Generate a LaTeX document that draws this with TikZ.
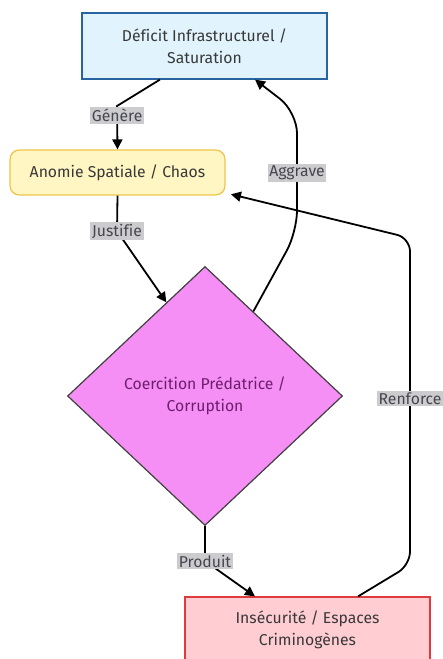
\documentclass[tikz,border=0pt]{standalone}
\usepackage{fontspec}
\setmainfont[Ligatures=NoCommon]{Fira Sans}
\usepackage{tikz}
\usetikzlibrary{positioning, arrows.meta, shapes.geometric, calc}
\usepackage{xcolor}
\definecolor{defblue}{RGB}{225, 244, 253}
\definecolor{defline}{RGB}{40, 100, 160}
\definecolor{anomfill}{RGB}{255, 246, 196}
\definecolor{anomline}{RGB}{238, 196, 70}
\definecolor{coerfill}{RGB}{245, 143, 245}
\definecolor{coertext}{RGB}{110, 30, 110}
\definecolor{insfill}{RGB}{255, 205, 210}
\definecolor{insline}{RGB}{222, 60, 60}
\definecolor{lblgray}{RGB}{204, 204, 206}
\definecolor{lbltext}{RGB}{70, 70, 80}

\begin{document}
\begin{tikzpicture}[
        x=0.75pt, y=-0.75pt,
        box/.style = {draw, align=center, inner sep=2pt, line width=0.9pt, text=black!78, font=\fontsize{11.8}{16.5}\selectfont},
        lbl/.style = {fill=lblgray, text=lbltext, sharp corners, inner sep=1.3pt, font=\fontsize{11.8}{13}\selectfont},
        arrow/.style = {-{Triangle[length=7.5pt, width=7.5pt]}, line width=1.35pt},
    ]
        \useasboundingbox (0,0) rectangle (442,659);
        \node[box, fill=defblue, draw=defline, minimum width=183.75pt, minimum height=49.5pt] (def) at (204.5,46) {D\'eficit Infrastructurel /\\Saturation};
        \node[box, fill=anomfill, draw=anomline, rounded corners=7pt, minimum width=161.25pt, minimum height=33.75pt] (anom) at (117.5,172.5) {Anomie Spatiale / Chaos};
        \node[box, diamond, fill=coerfill, draw=black!75, text=coertext, inner sep=0pt, minimum width=206.25pt, minimum height=194.25pt] (coer) at (205,396) {Coercition Pr\'edatrice /\\Corruption};
        \node[box, fill=insfill, draw=insline, minimum width=183.75pt, minimum height=48.75pt] (ins) at (307.5,629.5) {Ins\'ecurit\'e / Espaces\\Crimino\-g\`enes};
        % liens
        \draw[arrow] ([xshift=-33.4pt]def.south) -- (117,106) -- node[lbl, pos=0.22] {G\'en\`ere} (anom.north);
        \draw[arrow] (anom.south) -- (117,231) node[lbl] {Justifie} -- ($(coer.north)!0.28!(coer.west)$);
        \draw[arrow, rounded corners=16pt] ($(coer.north)!0.35!(coer.east)$) -- (297,232) -- node[lbl, pos=0.49] {Aggrave} (297,112) -- ([xshift=37.9pt]def.south);
        \draw[arrow] (coer.south) -- (205,561) node[lbl] {Produit} -- ([xshift=-39.4pt]ins.north);
        \draw[arrow, rounded corners=10pt] ([xshift=37.9pt]ins.north) -- (410,565) -- node[lbl, pos=0.51] {Renforce} (410,238) -- ([xshift=4pt, yshift=1pt]anom.south east);
    \end{tikzpicture}
\end{document}
